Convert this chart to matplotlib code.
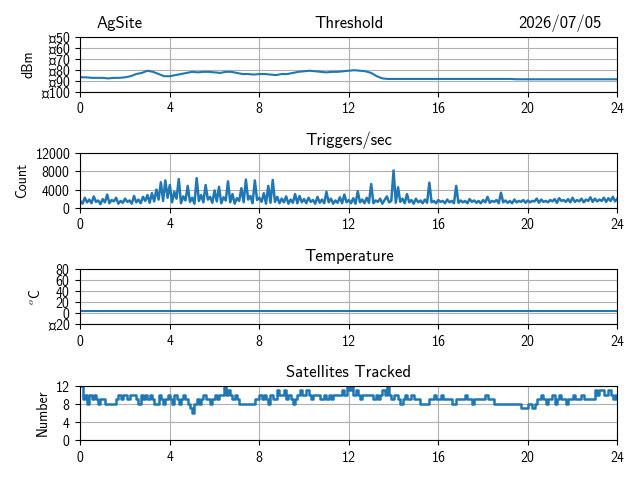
import numpy as np
import matplotlib
matplotlib.use('agg')
import matplotlib.pyplot as plt

plt.rcParams['mathtext.fontset'] = 'cm'
plt.rcParams['font.family'] = ['cmss10', 'DejaVu Sans']
plt.rcParams['axes.formatter.use_mathtext'] = True
plt.rcParams['font.size'] = 10

# hours, 0.25 h steps for threshold
hours_thr = np.arange(0, 24.01, 0.25)
threshold = [-87, -87, -87.5, -87.5, -87.5, -88, -87.5, -87.5, -87, -86, -84, -83,
             -81, -82, -84, -86, -86, -85, -84, -83, -82, -82.5, -82, -82, -82.5, -83,
             -82, -82, -83, -84, -84, -84.5, -84, -84, -84.5, -85, -84, -84, -83, -82,
             -81.5, -81, -81.5, -82, -82.5, -82, -82, -81.5, -81, -80.5, -81, -81.5,
             -83, -86, -88, -88.5, -88.5, -88.5, -88.5, -88.5, -88.5, -88.5, -88.5,
             -88.5, -88.5, -88.5, -88.5, -88.5, -88.5, -88.5, -88.5, -88.5, -88.5,
             -88.5, -88.5, -88.5, -88.5, -88.5, -88.8, -88.8, -88.8, -88.8, -88.8,
             -88.8, -88.8, -88.8, -88.8, -88.8, -88.8, -88.8, -88.8, -88.8, -88.8,
             -88.8, -88.8, -88.8, -88.8]

# hours, 0.1 h steps for triggers and satellites
hours = np.arange(0, 24.01, 0.1)
triggers = [
    1500, 900, 2200, 1200, 1800, 1000, 2500, 1300, 1600, 800, 1900, 1200, 2900, 1000, 1700, 1400, 2200, 900, 1500, 1100,
    2000, 1300, 1600, 900, 2600, 1200, 1800, 1000, 2400, 1500, 2800, 1100, 3200, 1400, 4000, 1800, 5600, 1500, 6000, 2200,
    5000, 1200, 3500, 2000, 6300, 1000, 2500, 1600, 4800, 1300, 2200, 900, 6500, 1500, 2800, 1200, 5000, 1800, 2400, 1100,
    3800, 1400, 4600, 1000, 2300, 1600, 5800, 1200, 3000, 900, 2100, 1500, 4300, 1200, 6200, 1800, 2600, 1000, 6000, 1700,
    2200, 1300, 3200, 900, 4800, 1100, 6100, 1300, 2400, 1000, 2000, 1200, 2500, 900, 1800, 1100, 3000, 1000, 2600, 1200,
    1900, 1000, 2200, 1300, 1700, 900, 2400, 1100, 1800, 1000, 3500, 1200, 2000, 900, 1600, 1100, 2300, 1000, 2900, 1200,
    1700, 1000, 2100, 900, 3600, 1200, 1800, 1000, 2200, 1100, 5200, 1000, 1600, 1300, 2000, 900, 1700, 2500, 1200, 1500,
    8200, 1100, 4500, 1300, 2000, 1000, 3000, 1200, 1700, 900, 2000, 1200, 1600, 1000, 1800, 1100, 5500, 1200, 1500, 1000,
    1700, 1300, 1500, 1000, 1800, 1200, 1500, 1000, 4800, 1100, 1600, 1200, 1500, 1000, 1900, 1300, 1600, 1100, 1500, 1000,
    1700, 1200, 2400, 1100, 1500, 1300, 1700, 1000, 3300, 1200, 1600, 1100, 1500, 1000, 1800, 1200, 1500, 1300, 1700, 1100,
    1600, 1200, 1500, 1400, 2000, 1100, 1800, 1300, 1500, 1200, 1700, 1400, 1900, 1100, 2100, 1500, 1700, 1300, 1900, 1200,
    2200, 1300, 1700, 1400, 2000, 1200, 1800, 1500, 2300, 1300, 2000, 1400, 1800, 1500, 2200, 1300, 2100, 1500, 2400, 1400,
    2000]
temperature = [3.0] * len(hours)
satellites = [
    12, 9, 10, 8, 10, 9, 10, 9, 8, 9, 9, 8, 8, 8, 8, 8, 9, 10, 9, 10, 10, 9, 10, 10, 10, 9, 8, 10, 9, 10,
    9, 10, 9, 8, 8, 10, 9, 8, 9, 10, 9, 8, 10, 9, 8, 9, 10, 9, 8, 7, 6, 8, 9, 8, 9, 10, 9, 9, 8, 9,
    10, 9, 10, 10, 12, 10, 11, 10, 9, 10, 9, 8, 8, 8, 8, 8, 8, 8, 9, 9, 10, 9, 10, 9, 8, 10, 9, 9, 11, 10,
    10, 11, 9, 10, 9, 8, 9, 10, 11, 10, 10, 11, 10, 9, 10, 10, 10, 9, 9, 10, 9, 10, 9, 10, 10, 10, 10, 11, 10, 12,
    11, 12, 10, 11, 10, 9, 10, 10, 10, 10, 10, 9, 10, 9, 10, 11, 10, 12, 10, 9, 10, 10, 9, 8, 9, 10, 9, 9, 10, 9,
    9, 9, 8, 8, 8, 8, 9, 9, 10, 9, 9, 10, 9, 9, 9, 9, 8, 8, 9, 9, 9, 9, 10, 9, 9, 8, 9, 9, 9, 9,
    9, 10, 9, 9, 9, 8, 8, 8, 8, 8, 8, 8, 8, 8, 8, 8, 8, 7, 7, 7, 8, 8, 7, 8, 9, 9, 10, 9, 8, 9,
    9, 10, 8, 9, 10, 9, 9, 8, 9, 9, 10, 9, 9, 9, 10, 9, 9, 9, 9, 9, 11, 10, 11, 11, 10, 10, 11, 10, 9, 10,
    9]

fig, axes = plt.subplots(4, 1, figsize=(6.4, 4.8))
c = '#1f77b4'

ax = axes[0]
ax.plot(hours_thr, threshold, color=c)
ax.set_ylim(-100, -50)
ax.set_yticks(range(-100, -49, 10))
ax.set_ylabel('dBm')
ax.set_title('Threshold')
ax.set_title('AgSite', loc='left', x=0.03)
ax.set_title('2026/07/05', loc='right', x=0.97)

ax = axes[1]
ax.plot(hours, triggers, color=c, lw=1.8)
ax.set_ylim(0, 12000)
ax.set_yticks(range(0, 12001, 4000))
ax.set_ylabel('Count')
ax.set_title('Triggers/sec')

ax = axes[2]
ax.plot(hours, temperature, color=c)
ax.set_ylim(-20, 80)
ax.set_yticks(range(-20, 81, 20))
ax.set_ylabel(r'$^o$C')
ax.set_title('Temperature')

ax = axes[3]
ax.step(hours, satellites, where='post', color=c, lw=1.8)
ax.set_ylim(0, 12)
ax.set_yticks(range(0, 13, 4))
ax.set_ylabel('Number')
ax.set_title('Satellites Tracked')

for ax in axes:
    ax.set_xlim(0, 24)
    ax.set_xticks(range(0, 25, 4))
    ax.grid(True)

fig.tight_layout()
fig.savefig('out.png', dpi=100)
